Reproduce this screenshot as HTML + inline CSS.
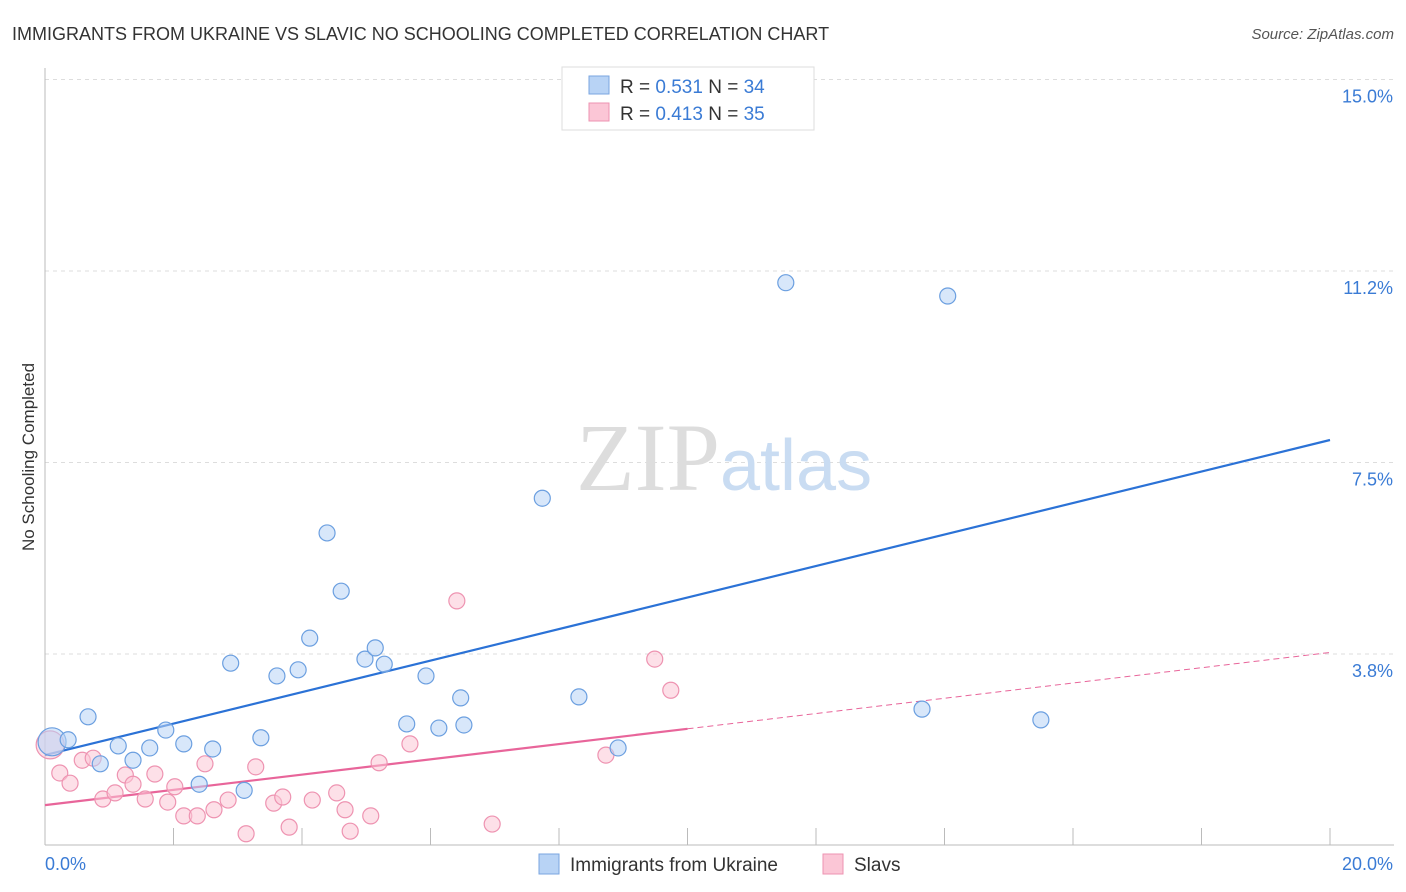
<!DOCTYPE html>
<html><head><meta charset="utf-8"><style>
body{margin:0;background:#fff;font-family:"Liberation Sans",sans-serif;}
svg{display:block}
</style></head><body>
<svg id="chart" width="1406" height="892" xmlns="http://www.w3.org/2000/svg">
<text x="12" y="40" font-size="18" fill="#333">IMMIGRANTS FROM UKRAINE VS SLAVIC NO SCHOOLING COMPLETED CORRELATION CHART</text>
<text x="1394" y="39" font-size="15" fill="#555" font-style="italic" text-anchor="end">Source: ZipAtlas.com</text>
<text x="0" y="0" transform="translate(34,457) rotate(-90)" font-size="17" fill="#333" text-anchor="middle">No Schooling Completed</text>
<g id="grid"></g>
<text x="720" y="490" font-size="96" font-family="Liberation Serif" fill="#ddd" text-anchor="end">ZIP</text>
<text x="720" y="490" font-size="72" fill="#c9dcf2">atlas</text>
<g id="lines"></g>
<g id="points"></g>
<g>
<rect x="562" y="67" width="252" height="63" fill="#fff" stroke="#ddd"/>
<rect x="589" y="76" width="20" height="18" fill="#b8d3f5" stroke="#7aa6e0"/>
<rect x="589" y="103" width="20" height="18" fill="#fbc6d6" stroke="#ee93b1"/>
<text x="620" y="93" font-size="19" fill="#333">R = <tspan fill="#3a7bd5">0.531</tspan>   N = <tspan fill="#3a7bd5">34</tspan></text>
<text x="620" y="120" font-size="19" fill="#333">R = <tspan fill="#3a7bd5">0.413</tspan>   N = <tspan fill="#3a7bd5">35</tspan></text>
</g>
<g>
<rect x="539" y="854" width="20" height="20" fill="#b8d3f5" stroke="#7aa6e0"/>
<text x="570" y="871" font-size="19" fill="#333">Immigrants from Ukraine</text>
<rect x="823" y="854" width="20" height="20" fill="#fbc6d6" stroke="#ee93b1"/>
<text x="854" y="871" font-size="19" fill="#333">Slavs</text>
</g>
</svg>
<script>
const yTicks=[3.75,7.5,11.25,15];
const yTickLabels=["3.8%","7.5%","11.2%","15.0%"];
const xTicks=[2,4,6,8,10,12,14,16,18,20];
const ukraineX=[0.11,0.36,0.67,0.86,1.14,1.37,1.63,1.88,2.16,2.40,2.61,2.89,3.10,3.36,3.61,3.94,4.12,4.39,4.61,4.98,5.14,5.28,5.93,5.63,6.13,6.47,6.52,7.74,8.31,8.92,11.53,14.05,13.65,15.50];
const ukraineY=[2.03,2.07,2.52,1.60,1.95,1.67,1.91,2.26,1.99,1.20,1.89,3.57,1.08,2.11,3.32,3.44,4.06,6.12,4.98,3.65,3.87,3.55,3.32,2.38,2.30,2.89,2.36,6.80,2.91,1.91,11.02,10.76,2.67,2.46];
const slavsX=[0.08,0.23,0.39,0.58,0.75,0.90,1.09,1.25,1.37,1.56,1.71,1.91,2.02,2.16,2.37,2.49,2.63,2.85,3.13,3.28,3.56,3.70,3.80,4.16,4.54,4.67,4.75,5.07,5.20,5.68,6.41,6.96,8.73,9.49,9.74];
const slavsY=[1.97,1.42,1.22,1.67,1.71,0.91,1.03,1.38,1.20,0.91,1.40,0.85,1.15,0.58,0.58,1.60,0.70,0.89,0.23,1.54,0.83,0.95,0.36,0.89,1.03,0.70,0.28,0.58,1.62,1.99,4.79,0.42,1.77,3.65,3.04];
const ukraineTrend=[1.77,7.94];
const slavsTrend=[0.79,3.78];
const NS="http://www.w3.org/2000/svg";
const X=v=>45+v/20*1285;
const Y=v=>845.5-v*51.07;
function mk(tag,attrs,parent){const e=document.createElementNS(NS,tag);for(const k in attrs)e.setAttribute(k,attrs[k]);parent.appendChild(e);return e;}
const grid=document.getElementById('grid');
yTicks.forEach((t,i)=>{
 const l=mk('line',{x1:45,x2:1394,y1:Y(t),y2:Y(t),stroke:'#ddd','stroke-dasharray':'4,4'},grid);
 
 
 const tx=mk('text',{x:1393,y:Y(t)+23,'font-size':18,fill:'#3a7bd5','text-anchor':'end'},grid);
 tx.textContent=yTickLabels[i];
 
 
});
const ax=mk('line',{x1:45,x2:45,y1:68,y2:845,stroke:'#bbb'},grid);


const bx=mk('line',{x1:45,x2:1394,y1:845,y2:845,stroke:'#bbb'},grid);


xTicks.forEach(t=>{
 const l=mk('line',{x1:X(t),x2:X(t),y1:828,y2:845,stroke:'#bbb'},grid);
 
 
});
const xl0=mk('text',{x:45,y:870,'font-size':18,fill:'#3a7bd5'},grid);xl0.textContent='0.0%';


const xl1=mk('text',{x:1393,y:870,'font-size':18,fill:'#3a7bd5','text-anchor':'end'},grid);xl1.textContent='20.0%';


const pts=document.getElementById('points');
function dots(xs,ys,fill,stroke,name){
 xs.forEach((v,i)=>{
  const c=mk('circle',{cx:X(v),cy:Y(ys[i]),r:i===0?14:8,fill:fill,'fill-opacity':0.55,stroke:stroke,'stroke-width':1.2},pts);
  
  
 });
}
dots(slavsX,slavsY,'#fbc6d6','#ee93b1','slavs-point');
dots(ukraineX,ukraineY,'#b8d3f5','#6b9fe0','ukraine-point');
const lg=document.getElementById('lines');
const bl=mk('line',{x1:X(0),y1:Y(ukraineTrend[0]),x2:X(20),y2:Y(ukraineTrend[1]),stroke:'#2b72d6','stroke-width':2.2},lg);


const sm=slavsTrend[0]+(slavsTrend[1]-slavsTrend[0])*0.5;
const pl=mk('line',{x1:X(0),y1:Y(slavsTrend[0]),x2:X(10),y2:Y(sm),stroke:'#e8659a','stroke-width':2.2},lg);


const pd=mk('line',{x1:X(10),y1:Y(sm),x2:X(20),y2:Y(slavsTrend[1]),stroke:'#e8659a','stroke-width':1,'stroke-dasharray':'6,4'},lg);


</script>
</body></html>
